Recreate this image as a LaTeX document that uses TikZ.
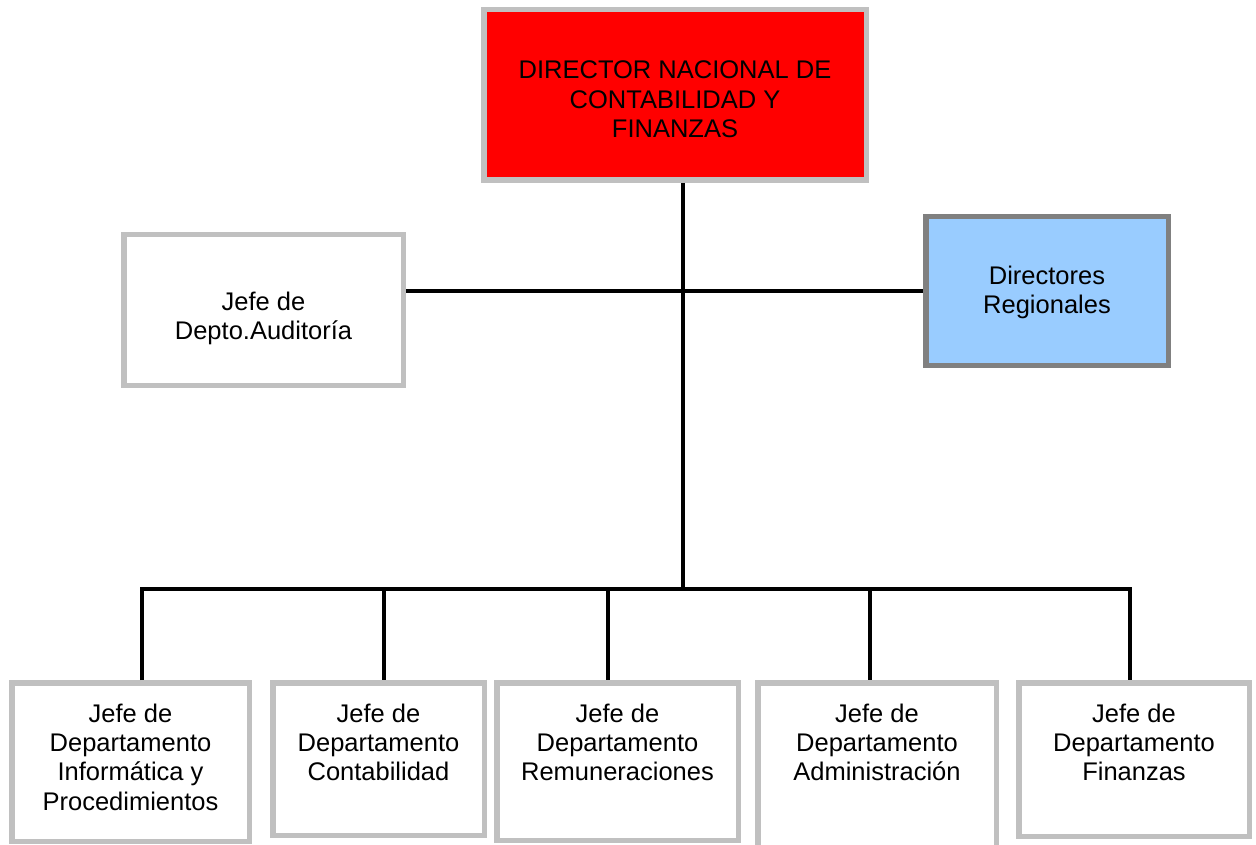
\documentclass[tikz,border=0pt]{standalone}
\usepackage{fontspec}
\setmainfont{Liberation Sans}
\definecolor{lgray}{HTML}{C0C0C0}
\definecolor{dgray}{HTML}{808080}
\definecolor{lblue}{HTML}{99CCFF}
\newcommand\mylines[1]{\begin{tabular}[t]{@{}c@{}}#1\end{tabular}}
\begin{document}
\begin{tikzpicture}[x=1pt,y=-1pt,
  box/.style={draw=lgray,line width=5.5pt,rectangle,inner sep=0pt,fill=white},
  txt/.style={font=\fontsize{25.5}{29.4}\selectfont,inner sep=0pt,anchor=base},
  conn/.style={line width=4.5pt,draw=black}]
\useasboundingbox[fill=white] (0,0) rectangle (1256,845);
% boxes
\node[box,fill=red,minimum width=382.5pt,minimum height=170.5pt] (top) at (675,95) {};
\node[box,minimum width=279.5pt,minimum height=150.5pt] (aud) at (263.5,310) {};
\node[box,draw=dgray,fill=lblue,minimum width=242.5pt,minimum height=148.5pt] (dir) at (1047,291) {};
\node[box,minimum width=237.5pt,minimum height=158.5pt] (b1) at (130.5,762) {};
\node[box,minimum width=211.5pt,minimum height=152.5pt] (b2) at (378.5,759) {};
\node[box,minimum width=241.5pt,minimum height=157.5pt] (b3) at (617.5,761.5) {};
\node[box,minimum width=238.5pt,minimum height=174.5pt] (b4) at (877,770) {};
\node[box,minimum width=230.5pt,minimum height=153.5pt] (b5) at (1134,759.5) {};
% texts
\node[txt] (ttop) at (675,79) {\mylines{DIRECTOR NACIONAL DE\\CONTABILIDAD Y\\FINANZAS}};
\node[txt] (taud) at (263.5,310) {\mylines{Jefe de\\Depto.Auditoría}};
\node[txt] (tdir) at (1047,284) {\mylines{Directores\\Regionales}};
\node[txt] (tb1) at (130.5,722) {\mylines{Jefe de\\Departamento\\Informática y\\Procedimientos}};
\node[txt] (tb2) at (378.5,722) {\mylines{Jefe de\\Departamento\\Contabilidad}};
\node[txt] (tb3) at (617.5,722) {\mylines{Jefe de\\Departamento\\Remuneraciones}};
\node[txt] (tb4) at (877,722) {\mylines{Jefe de\\Departamento\\Administración}};
\node[txt] (tb5) at (1134,722) {\mylines{Jefe de\\Departamento\\Finanzas}};
% junction coordinates
\coordinate (hj) at (683,291);
\coordinate (jb) at (683,589);
\coordinate (d1) at (142,589);
\coordinate (d2) at (384,589);
\coordinate (d3) at (608,589);
\coordinate (d4) at (870,589);
\coordinate (d5) at (1130,589);
% connectors
\draw[conn] (top.south -| jb) -- (jb);
\draw[conn] (aud.east |- hj) -- (dir.west);
\draw[conn] (d1 |- b1.north) -- (d1) -- (d5) -- (d5 |- b5.north);
\draw[conn] (d2) -- (d2 |- b2.north);
\draw[conn] (d3) -- (d3 |- b3.north);
\draw[conn] (d4) -- (d4 |- b4.north);
\end{tikzpicture}
\end{document}
